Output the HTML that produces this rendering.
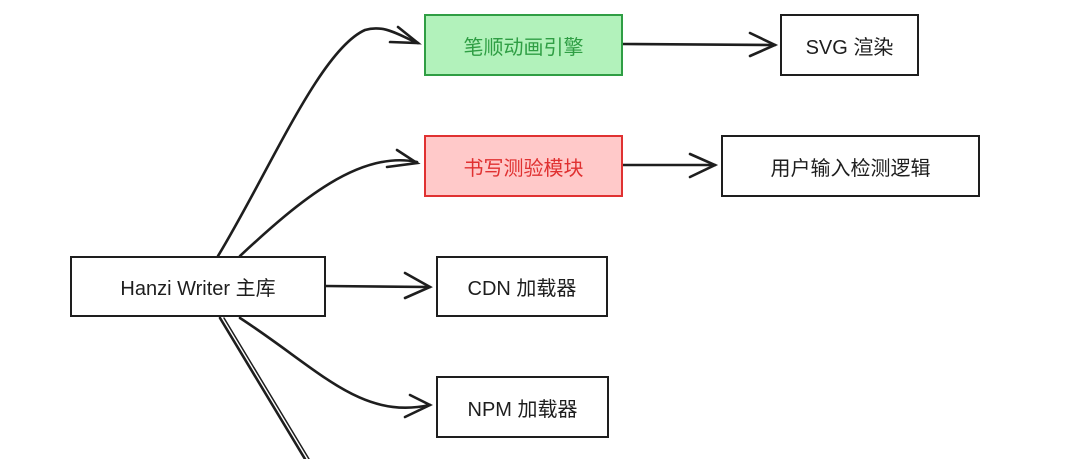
<!DOCTYPE html>
<html><head><meta charset="utf-8"><style>
html,body{margin:0;padding:0;background:#fff;}
body{width:1080px;height:459px;overflow:hidden;position:relative;font-family:"Liberation Sans","Noto Sans CJK SC",sans-serif;}
.b{position:absolute;box-sizing:border-box;border:2px solid #1e1e1e;display:flex;align-items:center;justify-content:center;font-size:20px;color:#1e1e1e;background:#fff;}
svg{position:absolute;left:0;top:0;}
</style></head><body>
<svg width="1080" height="459" fill="none" stroke="#1e1e1e" stroke-width="2.6" stroke-linecap="round">
<path d="M218,256 C270,170 320,50 365,30 C385,24 400,36 418,43"/>
<path d="M398,27 L418,43 L390,42"/>
<path d="M240,256 C300,200 360,150 417,162"/>
<path d="M397,150 L417,163 L387,167"/>
<path d="M325,286 L430,287"/>
<path d="M405,273 L430,287 L405,298"/>
<path d="M240,318 C320,370 360,420 430,405"/>
<path d="M410,395 L430,405 L405,417"/>
<path d="M220,318 L305,459"/>
<path d="M224,318 L309,459" stroke-width="1.5"/>
<path d="M622,44 L775,45"/>
<path d="M750,33 L775,45 L750,56"/>
<path d="M622,165 L715,165"/>
<path d="M690,154 L715,165 L690,177"/>
</svg>
<div class="b" style="left:424px;top:14px;width:199px;height:62px;background:#b2f2bb;border-color:#2f9e44;color:#2f9e44;">笔顺动画引擎</div>
<div class="b" style="left:780px;top:14px;width:139px;height:62px;">SVG 渲染</div>
<div class="b" style="left:424px;top:135px;width:199px;height:62px;background:#ffc9c9;border-color:#e03131;color:#e03131;">书写测验模块</div>
<div class="b" style="left:721px;top:135px;width:259px;height:62px;">用户输入检测逻辑</div>
<div class="b" style="left:70px;top:256px;width:256px;height:61px;">Hanzi Writer 主库</div>
<div class="b" style="left:436px;top:256px;width:172px;height:61px;">CDN 加载器</div>
<div class="b" style="left:436px;top:376px;width:173px;height:62px;">NPM 加载器</div>
</body></html>
